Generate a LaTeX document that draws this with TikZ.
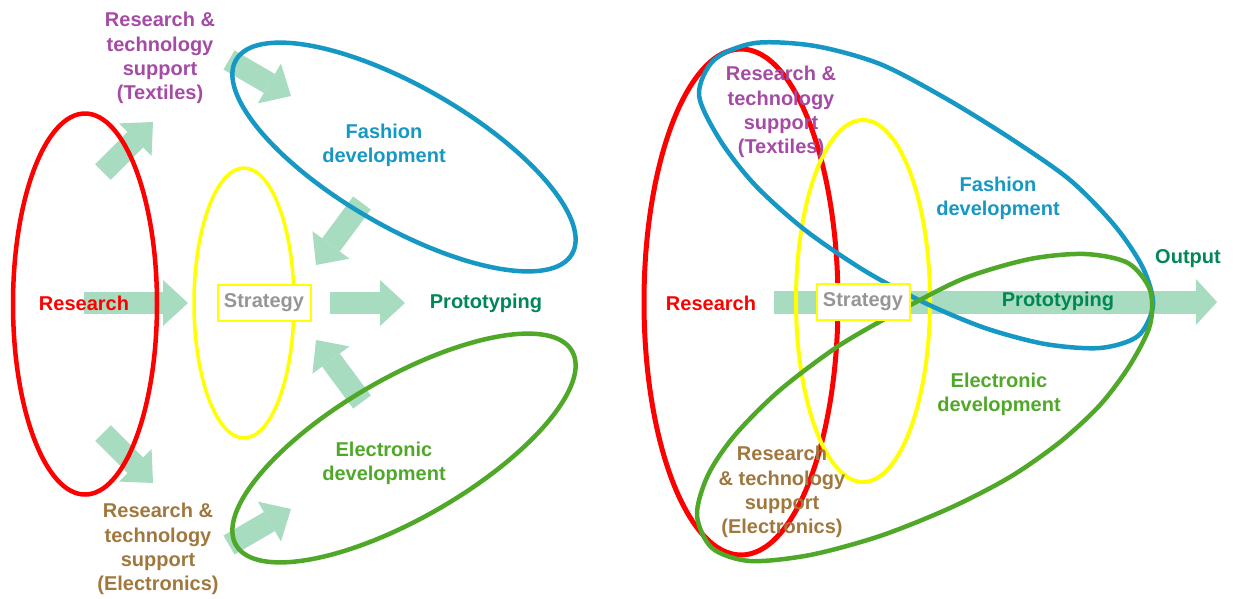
\documentclass[tikz,border=0pt]{standalone}
\usepackage{fontspec}
\setmainfont{Liberation Sans}
\usetikzlibrary{shapes.geometric, arrows.meta}

% palette
\definecolor{flow}{RGB}{168,220,192}
\definecolor{fashion}{RGB}{22,152,196}
\definecolor{electro}{RGB}{80,168,40}
\definecolor{proto}{RGB}{0,135,85}
\definecolor{textile}{RGB}{165,75,165}
\definecolor{etech}{RGB}{160,120,62}
\definecolor{strat}{RGB}{150,150,150}
\definecolor{resred}{RGB}{255,0,0}
\definecolor{stryellow}{RGB}{255,255,0}

\tikzset{
  lbl/.style={font=\bfseries\fontsize{20}{24.3}\selectfont, align=center, inner sep=0pt},
  flowarrow/.style={draw=flow, line width=22pt,
    -{Triangle[length=25pt, width=46pt, line width=0pt]}},
  bigflow/.style={draw=flow, line width=23pt,
    -{Triangle[length=21pt, width=46pt, line width=0pt]}},
  loop/.style={ellipse, inner sep=0pt},
  freeloop/.style={line width=4.5pt, line join=round},
  stratbox/.style={draw=stryellow, line width=2pt, fill=white, text=strat,
    minimum width=93pt, minimum height=36pt, inner sep=0pt,
    font=\bfseries\fontsize{20}{24}\selectfont},
}

\begin{document}
\begin{tikzpicture}[x=1pt, y=-1pt]
\useasboundingbox (0,0) rectangle (1237,598);

% ---------------- left: separate stages ----------------
% arrow end points
\coordinate (l1s) at (84,303);   \coordinate (l1e) at (188,303);
\coordinate (l2s) at (330,303);  \coordinate (l2e) at (405,303);
\coordinate (l3s) at (103,172);  \coordinate (l3e) at (153,122);
\coordinate (l4s) at (229,60);   \coordinate (l4e) at (291,96);
\coordinate (l5s) at (362,203);  \coordinate (l5e) at (316,265);
\coordinate (l6s) at (362,402);  \coordinate (l6e) at (316,340);
\coordinate (l7s) at (103,433);  \coordinate (l7e) at (153,483);
\coordinate (l8s) at (229,545);  \coordinate (l8e) at (291,509);

\foreach \a in {1,...,8} \draw[flowarrow] (l\a s) -- (l\a e);

\node[loop, draw=resred, line width=4.5pt, minimum width=144pt, minimum height=381pt] (redL) at (85,304) {};
\node[loop, draw=stryellow, line width=3.5pt, minimum width=100pt, minimum height=270pt] (yelL) at (244,303) {};
\node[loop, draw=fashion, line width=4.5pt, minimum width=388pt, minimum height=140pt, rotate=-30] (bluL) at (404,157) {};
\node[loop, draw=electro, line width=4.5pt, minimum width=388pt, minimum height=140pt, rotate=30] (grnL) at (404,448) {};

\node[lbl, text=textile] (texL) at (160,58) {Research \&\\technology\\support\\(Textiles)};
\node[lbl, text=fashion] (fashL) at (384,145) {Fashion\\development};
\node[lbl, text=resred] (researchL) at (84,303) {Research};
\node[stratbox] (stratL) at (264,303) {Strategy};
\node[lbl, text=proto] (protoL) at (486,303) {Prototyping};
\node[lbl, text=electro] (elecL) at (384,463) {Electronic\\development};
\node[lbl, text=etech] (etechL) at (158,549) {Research \&\\technology\\support\\(Electronics)};

% ---------------- right: overlapping stages ----------------
\coordinate (r1s) at (774,302);  \coordinate (r1e) at (1217,302);
\draw[bigflow] (r1s) -- (r1e);

\node[loop, draw=resred, line width=5pt, minimum width=194pt, minimum height=506pt] (redR) at (741,302) {};
\node[loop, draw=stryellow, line width=4pt, minimum width=134pt, minimum height=362pt] (yelR) at (863,301) {};

% fashion loop
\draw[freeloop, fashion] plot[smooth cycle, tension=0.5] coordinates {
  (699,95) (714,60) (755,43) (815,46) (880,64) (945,98) (1010,138) (1070,180)
  (1115,226) (1143,268) (1153,305) (1138,336) (1100,348) (1045,344) (985,328)
  (925,303) (865,271) (805,230) (755,185) (720,140)};

% electronics loop
\draw[freeloop, electro] plot[smooth cycle, tension=0.5] coordinates {
  (905,308) (965,278) (1030,259) (1085,254) (1128,263) (1150,290) (1150,325)
  (1130,365) (1100,405) (1060,442) (1010,477) (950,508) (880,536) (810,555)
  (750,561) (712,548) (697,515) (708,475) (735,435) (780,390) (840,345)};

\node[lbl, text=textile] (texR) at (781,112) {Research \&\\technology\\support\\(Textiles)};
\node[lbl, text=fashion] (fashR) at (998,198) {Fashion\\development};
\node[lbl, text=resred] (researchR) at (711,303) {Research};
\node[stratbox] (stratR) at (863,302) {Strategy};
\node[lbl, text=proto] (protoR) at (1058,301) {Prototyping};
\node[lbl, text=proto] (outR) at (1188,259) {Output};
\node[lbl, text=electro] (elecR) at (999,394) {Electronic\\development};
\node[lbl, text=etech] (etechR) at (782,492) {Research\\\& technology\\support\\(Electronics)};
\end{tikzpicture}
\end{document}
